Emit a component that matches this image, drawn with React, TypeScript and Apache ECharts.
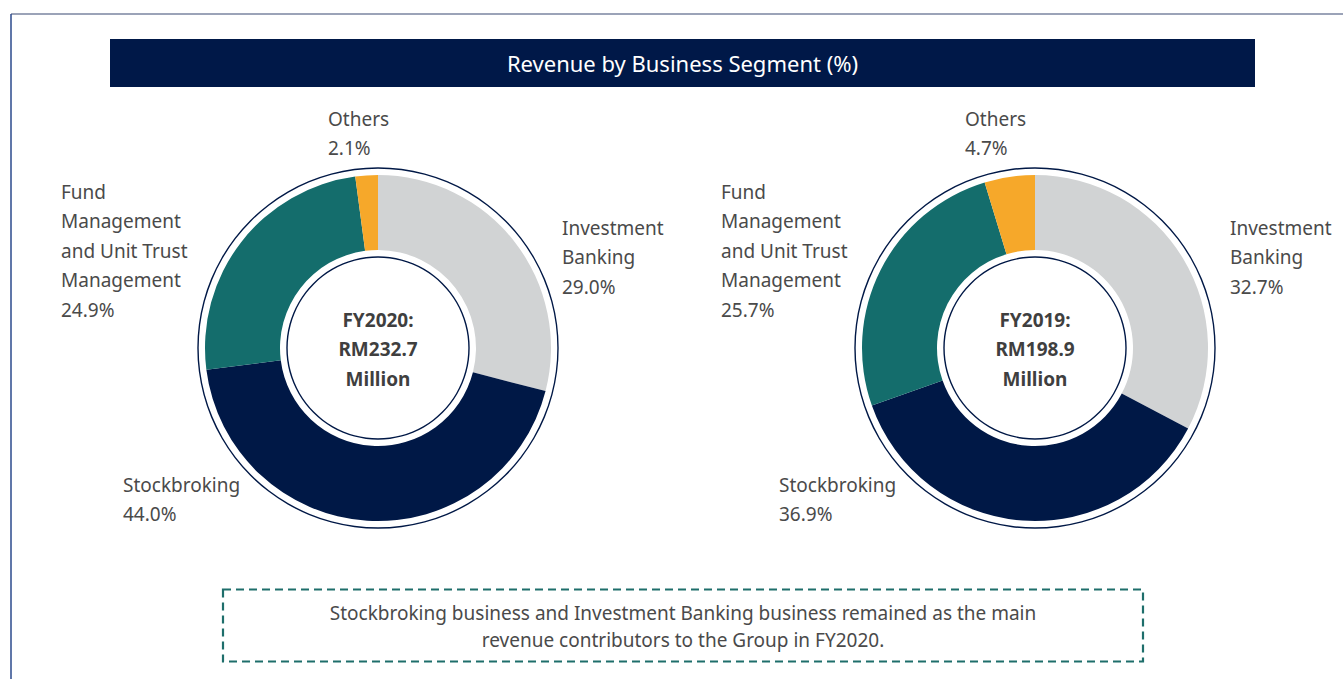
import React, { useEffect, useRef } from "react";
import * as echarts from "echarts";

const segments = [
  "Investment\nBanking",
  "Stockbroking",
  "Fund\nManagement\nand Unit Trust\nManagement",
  "Others",
];
const fy2020Values = [29.0, 44.0, 24.9, 2.1];
const fy2019Values = [32.7, 36.9, 25.7, 4.7];
const years = ["FY2020", "FY2019"];
const totals = ["232.7", "198.9"];
const segmentColors = ["#D1D3D4", "#001846", "#146D6C", "#F6A82A"];
const title = "Revenue by Business Segment (%)";
const note = [
  "Stockbroking business and Investment Banking business remained as the main",
  "revenue contributors to the Group in FY2020.",
];

// label anchor positions (layout, px) per chart, per segment
const labelPos = [
  [
    [562, 213],
    [123, 470],
    [61, 177],
    [328, 104],
  ],
  [
    [1230, 213],
    [779, 470],
    [721, 177],
    [965, 104],
  ],
];
const centers = [
  [378, 348],
  [1035, 348],
];

const TEXT = "#4a4a4a";
const FONT = "'Noto Sans', 'Open Sans', sans-serif";

export default function App() {
  const ref = useRef<HTMLDivElement>(null);
  useEffect(() => {
    document.body.style.margin = "0";
    const chart = echarts.init(ref.current!, null, { renderer: "svg" });
    const datasets = [fy2020Values, fy2019Values];
    const series: any[] = [];
    datasets.forEach((vals, ci) => {
      series.push({
        type: "pie",
        silent: true,
        center: centers[ci],
        radius: [98, 173],
        startAngle: 90,
        clockwise: true,
        avoidLabelOverlap: false,
        labelLine: { show: false },
        label: {
          show: true,
          formatter: (p: any) => `${p.name}\n${p.value.toFixed(1)}%`,
          color: TEXT,
          fontFamily: FONT,
          fontSize: 19,
          lineHeight: 29.5,
          align: "left",
        },
        labelLayout: (p: any) => {
          const pos = labelPos[ci][p.dataIndex];
          return { x: pos[0], y: pos[1], align: "left", verticalAlign: "top" };
        },
        itemStyle: { borderWidth: 0 },
        data: segments.map((s, i) => ({
          name: s,
          value: vals[i],
          itemStyle: { color: segmentColors[i] },
        })),
      });
      // outer thin ring
      series.push({
        type: "pie",
        silent: true,
        center: centers[ci],
        radius: [179.3, 180.7],
        label: { show: false },
        labelLine: { show: false },
        data: [{ value: 1, itemStyle: { color: "#001846" } }],
      });
      // inner thin ring
      series.push({
        type: "pie",
        silent: true,
        center: centers[ci],
        radius: [90.3, 91.7],
        label: { show: false },
        labelLine: { show: false },
        data: [{ value: 1, itemStyle: { color: "#001846" } }],
      });
    });

    const graphic: any[] = [
      { type: "line", shape: { x1: 11, y1: 14, x2: 1343, y2: 14 }, style: { stroke: "#7A85A0", lineWidth: 1.5 } },
      { type: "line", shape: { x1: 11, y1: 14, x2: 11, y2: 679 }, style: { stroke: "#2B4A8C", lineWidth: 1.5 } },
      { type: "rect", shape: { x: 110, y: 39, width: 1145, height: 48 }, style: { fill: "#001848" } },
      {
        type: "text",
        x: 682.5,
        y: 63,
        style: {
          text: title,
          fill: "#ffffff",
          font: `22px ${FONT}`,
          textAlign: "center",
          textVerticalAlign: "middle",
        },
      },
      {
        type: "rect",
        shape: { x: 223, y: 589.5, width: 920, height: 72 },
        style: { fill: "none", stroke: "#1E6E6B", lineWidth: 2.2, lineDash: [8, 5] },
      },
      {
        type: "text",
        x: 683,
        y: 626.5,
        style: {
          text: note.join("\n"),
          fill: TEXT,
          font: `19px ${FONT}`,
          lineHeight: 27,
          textAlign: "center",
          textVerticalAlign: "middle",
        },
      },
    ];
    years.forEach((y, ci) => {
      graphic.push({
        type: "text",
        x: centers[ci][0],
        y: centers[ci][1] + 1,
        style: {
          text: `${y}:\nRM${totals[ci]}\nMillion`,
          fill: "#3f3f3f",
          font: `bold 19px ${FONT}`,
          lineHeight: 29.5,
          textAlign: "center",
          textVerticalAlign: "middle",
        },
      });
    });

    chart.setOption({
      animation: false,
      series,
      graphic,
    });
    return () => chart.dispose();
  }, []);
  return <div ref={ref} style={{ width: 1343, height: 679, background: "#fff" }} />;
}
